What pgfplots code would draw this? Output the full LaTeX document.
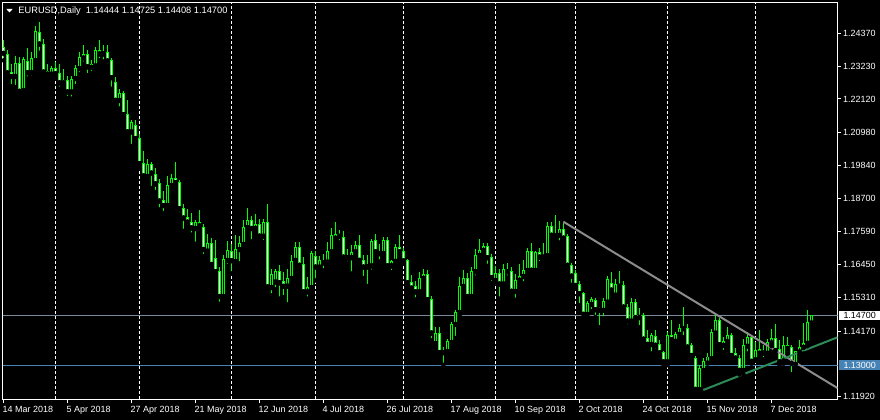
\documentclass[border=0pt]{standalone}
\usepackage{pgfplots}
\pgfplotsset{compat=1.18}
\usepackage{pgfplotstable}
\usepackage{fontspec}
\setmainfont{Liberation Sans}
\definecolor{lime}{RGB}{0,255,0}
\definecolor{bidgray}{RGB}{119,136,153}
\definecolor{lvlblue}{RGB}{70,130,180}
\definecolor{trendgray}{RGB}{140,140,140}
\definecolor{trendgreen}{RGB}{46,139,87}

\pgfplotstableread{
i O H L C
0 1.2388 1.2413 1.2344 1.2368
1 1.2366 1.2381 1.2296 1.2301
2 1.2301 1.2333 1.2256 1.2289
3 1.2289 1.2358 1.2253 1.2335
4 1.2335 1.2355 1.2236 1.2238
5 1.2240 1.2356 1.2230 1.2348
6 1.2340 1.2385 1.2282 1.2302
7 1.2302 1.2372 1.2285 1.2350
8 1.2343 1.2461 1.2338 1.2444
9 1.2439 1.2474 1.2370 1.2400
10 1.2398 1.2419 1.2296 1.2304
11 1.2297 1.2333 1.2280 1.2306
12 1.2297 1.2325 1.2285 1.2317
13 1.2315 1.2340 1.2285 1.2298
14 1.2299 1.2333 1.2247 1.2267
15 1.2267 1.2313 1.2251 1.2276
16 1.2275 1.2290 1.2215 1.2236
17 1.2236 1.2290 1.2213 1.2278
18 1.2282 1.2327 1.2256 1.2318
19 1.2316 1.2373 1.2297 1.2354
20 1.2352 1.2396 1.2333 1.2364
21 1.2364 1.2379 1.2293 1.2322
22 1.2320 1.2345 1.2300 1.2330
23 1.2325 1.2390 1.2320 1.2378
24 1.2378 1.2413 1.2344 1.2366
25 1.2366 1.2396 1.2340 1.2372
26 1.2371 1.2398 1.2325 1.2342
27 1.2344 1.2352 1.2247 1.2285
28 1.2267 1.2287 1.2193 1.2207
29 1.2207 1.2245 1.2179 1.2230
30 1.2230 1.2238 1.2155 1.2158
31 1.2158 1.2207 1.2091 1.2099
32 1.2099 1.2139 1.2051 1.2131
33 1.2122 1.2139 1.2059 1.2076
34 1.2076 1.2093 1.1979 1.1990
35 1.1990 1.2033 1.1933 1.1948
36 1.1947 1.2008 1.1939 1.1986
37 1.1986 1.1996 1.1907 1.1958
38 1.1952 1.1975 1.1893 1.1921
39 1.1922 1.1937 1.1833 1.1862
40 1.1865 1.1896 1.1821 1.1847
41 1.1847 1.1947 1.1842 1.1916
42 1.1916 1.1955 1.1900 1.1940
43 1.1940 1.1995 1.1915 1.1925
44 1.1925 1.1935 1.1819 1.1836
45 1.1836 1.1853 1.1760 1.1804
46 1.1805 1.1836 1.1774 1.1790
47 1.1790 1.1822 1.1747 1.1770
48 1.1768 1.1796 1.1716 1.1790
49 1.1788 1.1830 1.1772 1.1777
50 1.1773 1.1785 1.1674 1.1696
51 1.1691 1.1750 1.1676 1.1718
52 1.1716 1.1735 1.1642 1.1645
53 1.1665 1.1728 1.1604 1.1620
54 1.1620 1.1638 1.1510 1.1535
55 1.1535 1.1676 1.1522 1.1661
56 1.1659 1.1724 1.1640 1.1693
57 1.1690 1.1716 1.1615 1.1658
58 1.1655 1.1745 1.1640 1.1696
59 1.1696 1.1742 1.1648 1.1716
60 1.1714 1.1796 1.1700 1.1771
61 1.1771 1.1840 1.1760 1.1796
62 1.1796 1.1811 1.1724 1.1768
63 1.1768 1.1819 1.1755 1.1782
64 1.1781 1.1800 1.1730 1.1742
65 1.1742 1.1800 1.1722 1.1788
66 1.1788 1.1851 1.1562 1.1568
67 1.1566 1.1628 1.1539 1.1610
68 1.1585 1.1628 1.1560 1.1620
69 1.1620 1.1643 1.1528 1.1582
70 1.1587 1.1620 1.1533 1.1570
71 1.1571 1.1630 1.1508 1.1598
72 1.1597 1.1676 1.1590 1.1656
73 1.1659 1.1722 1.1645 1.1704
74 1.1704 1.1722 1.1637 1.1642
75 1.1644 1.1670 1.1539 1.1551
76 1.1551 1.1602 1.1528 1.1566
77 1.1566 1.1690 1.1560 1.1682
78 1.1673 1.1690 1.1590 1.1636
79 1.1636 1.1673 1.1625 1.1659
80 1.1656 1.1680 1.1625 1.1650
81 1.1653 1.1722 1.1648 1.1690
82 1.1688 1.1770 1.1680 1.1745
83 1.1735 1.1790 1.1728 1.1748
84 1.1748 1.1762 1.1720 1.1741
85 1.1739 1.1758 1.1659 1.1670
86 1.1667 1.1699 1.1648 1.1673
87 1.1668 1.1710 1.1614 1.1685
88 1.1688 1.1724 1.1680 1.1710
89 1.1710 1.1745 1.1650 1.1659
90 1.1659 1.1676 1.1598 1.1636
91 1.1636 1.1678 1.1571 1.1642
92 1.1640 1.1733 1.1620 1.1722
93 1.1728 1.1751 1.1680 1.1688
94 1.1690 1.1716 1.1655 1.1682
95 1.1682 1.1740 1.1678 1.1728
96 1.1728 1.1738 1.1635 1.1640
97 1.1640 1.1662 1.1618 1.1656
98 1.1656 1.1716 1.1650 1.1703
99 1.1703 1.1745 1.1680 1.1688
100 1.1688 1.1700 1.1650 1.1657
101 1.1659 1.1665 1.1578 1.1582
102 1.1582 1.1610 1.1560 1.1564
103 1.1570 1.1587 1.1525 1.1551
104 1.1551 1.1620 1.1545 1.1597
105 1.1597 1.1630 1.1590 1.1610
106 1.1610 1.1625 1.1518 1.1524
107 1.1524 1.1536 1.1385 1.1410
108 1.1374 1.1432 1.1365 1.1410
109 1.1408 1.1430 1.1328 1.1343
110 1.1343 1.1362 1.1301 1.1346
111 1.1346 1.1390 1.1333 1.1380
112 1.1378 1.1447 1.1365 1.1440
113 1.1440 1.1488 1.1393 1.1480
114 1.1480 1.1602 1.1470 1.1570
115 1.1570 1.1625 1.1560 1.1597
116 1.1597 1.1617 1.1530 1.1535
117 1.1535 1.1635 1.1530 1.1620
118 1.1620 1.1697 1.1600 1.1676
119 1.1676 1.1733 1.1659 1.1693
120 1.1693 1.1718 1.1680 1.1705
121 1.1705 1.1718 1.1640 1.1668
122 1.1668 1.1680 1.1580 1.1600
123 1.1590 1.1640 1.1585 1.1615
124 1.1615 1.1630 1.1528 1.1578
125 1.1578 1.1645 1.1570 1.1628
126 1.1628 1.1650 1.1600 1.1620
127 1.1620 1.1635 1.1545 1.1553
128 1.1553 1.1614 1.1524 1.1591
129 1.1591 1.1645 1.1583 1.1604
130 1.1604 1.1660 1.1580 1.1625
131 1.1625 1.1700 1.1618 1.1690
132 1.1690 1.1720 1.1621 1.1625
133 1.1625 1.1690 1.1610 1.1685
134 1.1685 1.1700 1.1650 1.1670
135 1.1670 1.1720 1.1660 1.1675
136 1.1675 1.1790 1.1665 1.1775
137 1.1775 1.1790 1.1735 1.1745
138 1.1748 1.1815 1.1730 1.1742
139 1.1745 1.1795 1.1720 1.1766
140 1.1766 1.1790 1.1720 1.1735
141 1.1740 1.1750 1.1630 1.1642
142 1.1642 1.1650 1.1575 1.1605
143 1.1614 1.1625 1.1565 1.1573
144 1.1577 1.1590 1.1505 1.1545
145 1.1545 1.1550 1.1460 1.1474
146 1.1474 1.1520 1.1463 1.1511
147 1.1508 1.1535 1.1485 1.1525
148 1.1522 1.1530 1.1465 1.1490
149 1.1491 1.1500 1.1430 1.1488
150 1.1488 1.1530 1.1460 1.1519
151 1.1516 1.1605 1.1505 1.1594
152 1.1580 1.1620 1.1545 1.1557
153 1.1540 1.1595 1.1537 1.1577
154 1.1577 1.1621 1.1560 1.1570
155 1.1574 1.1590 1.1495 1.1499
156 1.1499 1.1510 1.1433 1.1451
157 1.1451 1.1530 1.1440 1.1514
158 1.1514 1.1525 1.1455 1.1463
159 1.1468 1.1495 1.1430 1.1463
160 1.1470 1.1480 1.1385 1.1389
161 1.1390 1.1420 1.1355 1.1371
162 1.1371 1.1410 1.1340 1.1402
163 1.1398 1.1420 1.1350 1.1368
164 1.1370 1.1385 1.1330 1.1342
165 1.1343 1.1350 1.1300 1.1311
166 1.1311 1.1415 1.1300 1.1402
167 1.1402 1.1455 1.1375 1.1388
168 1.1382 1.1415 1.1365 1.1405
169 1.1405 1.1440 1.1390 1.1425
170 1.1425 1.1500 1.1395 1.1432
171 1.1425 1.1440 1.1345 1.1362
172 1.1368 1.1375 1.1320 1.1333
173 1.1322 1.1330 1.1212 1.1217
174 1.1216 1.1300 1.1212 1.1288
175 1.1282 1.1325 1.1270 1.1311
176 1.1307 1.1340 1.1290 1.1328
177 1.1322 1.1425 1.1315 1.1411
178 1.1410 1.1472 1.1400 1.1454
179 1.1454 1.1460 1.1355 1.1370
180 1.1368 1.1395 1.1345 1.1382
181 1.1380 1.1430 1.1370 1.1402
182 1.1402 1.1410 1.1325 1.1333
183 1.1339 1.1360 1.1310 1.1324
184 1.1324 1.1335 1.1268 1.1282
185 1.1282 1.1390 1.1268 1.1368
186 1.1365 1.1412 1.1340 1.1394
187 1.1394 1.1400 1.1305 1.1313
188 1.1318 1.1380 1.1315 1.1350
189 1.1353 1.1420 1.1335 1.1341
190 1.1341 1.1370 1.1320 1.1345
191 1.1341 1.1390 1.1330 1.1376
192 1.1376 1.1425 1.1365 1.1392
193 1.1390 1.1442 1.1340 1.1350
194 1.1353 1.1386 1.1300 1.1311
195 1.1314 1.1400 1.1305 1.1368
196 1.1368 1.1395 1.1340 1.1357
197 1.1361 1.1370 1.1269 1.1306
198 1.1303 1.1350 1.1295 1.1348
199 1.1345 1.1385 1.1330 1.1361
200 1.1361 1.1443 1.1340 1.1375
201 1.1375 1.1488 1.1365 1.1446
202 1.14444 1.14725 1.14408 1.14700
}\candles

\begin{document}
\begin{tikzpicture}
\useasboundingbox (0,0) rectangle (880bp,420bp);
\fill[black] (0,0) rectangle (880bp,420bp);
\begin{axis}[
  at={(2.5bp,20.5bp)}, anchor=south west, scale only axis,
  width=835bp, height=397bp,
  xmin=-0.25, xmax=208.5, ymin=1.11824, ymax=1.25425,
  axis line style={white, line width=1bp},
  xtick={0,16,...,192},
  xticklabels={14 Mar 2018, 5 Apr 2018, 27 Apr 2018, 21 May 2018, 12 Jun 2018, 4 Jul 2018, 26 Jul 2018, 17 Aug 2018, 10 Sep 2018, 2 Oct 2018, 24 Oct 2018, 15 Nov 2018, 7 Dec 2018},
  ytick={1.11920,1.14170,1.15310,1.16450,1.17590,1.18700,1.19840,1.20980,1.22120,1.23230,1.24370},
  yticklabels={1.11920,1.14170,1.15310,1.16450,1.17590,1.18700,1.19840,1.20980,1.22120,1.23230,1.24370},
  xtick pos=bottom, ytick pos=right, yticklabel pos=right,
  tick align=outside, major tick length=3.5bp,
  tick style={white, line width=1bp},
  tick label style={font=\fontsize{9}{10}\selectfont, text=white},
  xticklabel style={anchor=base west, inner sep=0pt, xshift=-1bp, yshift=-9bp},
  yticklabel style={anchor=west, inner sep=0pt, xshift=2bp},
  extra x ticks={13,34,57,78,100,123,143,166,188},
  extra x tick labels={},
  extra x tick style={grid=major, major tick length=0pt, major grid style={white, line width=1bp, dash pattern=on 3bp off 2bp}},
]
% horizontal levels
\addplot[bidgray, line width=1bp, forget plot] coordinates {(-0.25,1.147) (208.5,1.147)};
\addplot[lvlblue, line width=1bp, forget plot] coordinates {(-0.25,1.13) (208.5,1.13)};
% wicks
\addplot[forget plot, only marks, mark=none, error bars/.cd, y dir=plus, y explicit, error mark=none,
  error bar style={draw=lime, line width=1bp}]
  table[x=i, y=L, y error expr={\thisrow{H}-\thisrow{L}}] {\candles};
% bodies
\addplot[forget plot, only marks, mark=none, error bars/.cd, y dir=plus, y explicit, error mark=none,
  error bar style={draw=lime, line width=3bp}]
  table[x=i, y expr={min(\thisrow{O},\thisrow{C})-0.00017}, y error expr={abs(\thisrow{C}-\thisrow{O})+0.00034}] {\candles};
% bull interiors (black)
\addplot[forget plot, only marks, mark=none, error bars/.cd, y dir=plus, y explicit, error mark=none,
  error bar style={draw=black, line width=1bp}]
  table[x=i, y expr={min(\thisrow{O},\thisrow{C})+0.00017}, y error expr={\thisrow{C}>\thisrow{O} ? max(0,\thisrow{C}-\thisrow{O}-0.00034) : 0}] {\candles};
% bear interiors (white)
\addplot[forget plot, only marks, mark=none, error bars/.cd, y dir=plus, y explicit, error mark=none,
  error bar style={draw=white, line width=1bp}]
  table[x=i, y expr={min(\thisrow{O},\thisrow{C})+0.00017}, y error expr={\thisrow{C}<\thisrow{O} ? max(0,\thisrow{O}-\thisrow{C}-0.00034) : 0}] {\candles};
% trend lines
\addplot[trendgray, line width=2bp, forget plot] coordinates {(139.95,1.17916) (208.5,1.12216)};
\addplot[trendgreen, line width=2bp, forget plot] coordinates {(174.95,1.12150) (208.5,1.13955)};
\coordinate (bid) at (axis cs:208.5,1.147);
\coordinate (lvl) at (axis cs:208.5,1.13);
\end{axis}
\node[fill=white, text=black, anchor=west, inner sep=0pt, minimum width=41bp, minimum height=9.4bp, font=\fontsize{9}{10}\selectfont] at ([xshift=1.5bp]bid) {1.14700};
\node[fill=lvlblue, text=white, anchor=west, inner sep=0pt, minimum width=41bp, minimum height=9.4bp, font=\fontsize{9}{10}\selectfont] at ([xshift=1.5bp]lvl) {1.13000};
\fill[white] (6.3bp,411bp) -- (12.7bp,411bp) -- (9.5bp,407.6bp) -- cycle;
\node[anchor=base west, inner sep=0pt, text=white, font=\fontsize{9.3}{10}\selectfont] at (18.3bp,406bp) {EURUSD,Daily\hspace{5bp}1.14444 1.14725 1.14408 1.14700};
\end{tikzpicture}
\end{document}
